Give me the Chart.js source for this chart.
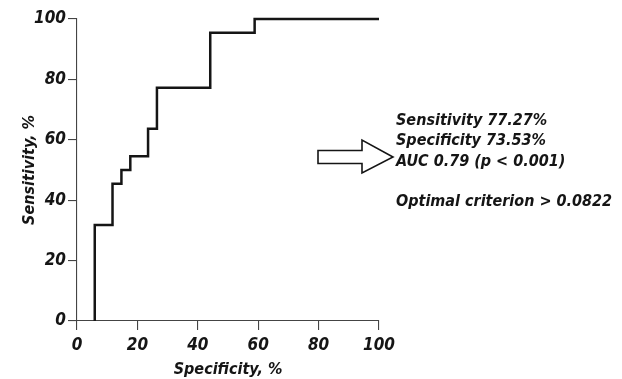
<!DOCTYPE html>
<html>
<head>
<meta charset="utf-8">
<script src="https://cdn.jsdelivr.net/npm/chart.js@4.4.0/dist/chart.umd.min.js"></script>
<style>
  html, body { margin: 0; padding: 0; background: #fff; }
  #wrap { width: 622px; height: 379px; }
</style>
</head>
<body>
<div id="wrap"><canvas id="roc"></canvas></div>
<script>
// ROC curve corners, drawn with stepped: 'after' (up first, then across)
const specificity = [5.88, 11.76, 14.71, 17.65, 23.53, 26.47, 44.12, 58.82, 100];
const sensitivity = [0, 31.82, 45.45, 50, 54.55, 63.64, 77.27, 95.45, 100];
const axisTicks = [0, 20, 40, 60, 80, 100];
const notes = ['Sensitivity 77.27%', 'Specificity 73.53%', 'AUC 0.79 (p < 0.001)', '', 'Optimal criterion > 0.0822'];

const FONT = '"Liberation Sans Narrow", "DejaVu Sans Condensed", "Arial Narrow", sans-serif';
const ink = '#151515';
const axisCol = '#444';

const points = specificity.map((x, i) => ({ x: x, y: sensitivity[i] }));

// text block + hollow arrow on the right of the plot
const notesPlugin = {
  id: 'notes',
  afterDraw(chart) {
    const ctx = chart.ctx;
    const a = chart.chartArea;
    ctx.save();
    // arrow
    const y0 = a.top + 138;
    ctx.beginPath();
    ctx.moveTo(a.right - 61, y0 - 6.5);
    ctx.lineTo(a.right - 17, y0 - 6.5);
    ctx.lineTo(a.right - 17, y0 - 17);
    ctx.lineTo(a.right + 14, y0);
    ctx.lineTo(a.right - 17, y0 + 16);
    ctx.lineTo(a.right - 17, y0 + 6.5);
    ctx.lineTo(a.right - 61, y0 + 6.5);
    ctx.closePath();
    ctx.fillStyle = '#fff';
    ctx.fill();
    ctx.lineWidth = 1.6;
    ctx.strokeStyle = ink;
    ctx.stroke();

    ctx.fillStyle = ink;
    ctx.font = 'italic bold 16px ' + FONT;
    ctx.textBaseline = 'middle';
    ctx.textAlign = 'left';
    notes.forEach((t, i) => {
      if (t) ctx.fillText(t, a.right + 17, a.top + 102 + i * 20.3);
    });
    ctx.restore();
  }
};

const tickFont = { family: FONT, size: 17, style: 'italic', weight: 'bold' };
const titleFont = { family: FONT, size: 16, style: 'italic', weight: 'bold' };

new Chart(document.getElementById('roc'), {
  type: 'scatter',
  data: {
    datasets: [{
      data: points,
      showLine: true,
      stepped: 'after',
      borderColor: ink,
      borderWidth: 2.5,
      pointRadius: 0,
      fill: false,
      clip: false
    }]
  },
  options: {
    responsive: true,
    maintainAspectRatio: false,
    animation: false,
    layout: { padding: { left: 0, top: 19, right: 243, bottom: 0 } },
    plugins: { legend: { display: false }, tooltip: { enabled: false } },
    scales: {
      x: {
        type: 'linear',
        min: 0, max: 100,
        afterBuildTicks: s => { s.ticks = axisTicks.map(v => ({ value: v })); },
        afterFit: s => { s.height = 58; },
        grid: { drawOnChartArea: false, drawTicks: true, tickLength: 9, color: axisCol, lineWidth: 1.1 },
        border: { display: true, color: axisCol, width: 1.1 },
        ticks: { color: ink, font: tickFont, padding: 5, maxRotation: 0 },
        title: { display: true, text: 'Specificity, %', color: ink, font: titleFont, padding: { top: 0, bottom: 0 } }
      },
      y: {
        min: 0, max: 100,
        afterBuildTicks: s => { s.ticks = axisTicks.map(v => ({ value: v })); },
        afterFit: s => { s.width = 77; },
        grid: { drawOnChartArea: false, drawTicks: true, tickLength: 9, color: axisCol, lineWidth: 1.1 },
        border: { display: true, color: axisCol, width: 1.1 },
        ticks: { color: ink, font: tickFont, padding: 2 },
        title: { display: true, text: 'Sensitivity, %', color: ink, font: titleFont, padding: { top: 20, bottom: 0 } }
      }
    }
  },
  plugins: [notesPlugin]
});
</script>
</body>
</html>
